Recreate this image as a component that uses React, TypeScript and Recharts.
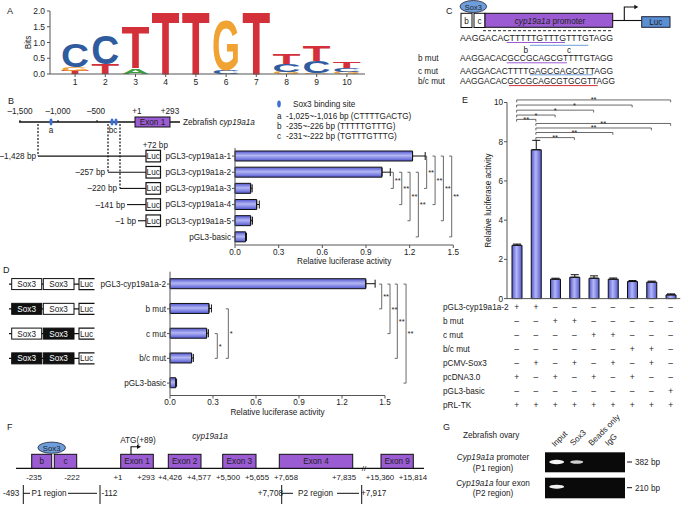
import React from "react";
import { BarChart, Bar, XAxis, YAxis, ErrorBar, ReferenceLine } from "recharts";

const FONT = '"Liberation Sans", Arial, Helvetica, sans-serif';
const TEXT = "#222";
const AXIS = "#555";
const FS = 8.2;

// ---------- A: sequence logo ----------
const logoPositions = ["1", "2", "3", "4", "5", "6", "7", "8", "9", "10"];
// letters stacked bottom -> top
const logoLayer0Letters = ["T", "T", "A", "T", "T", "C", "T", "G", "G", "G"];
const logoLayer0Bits = [0.1, 0.32, 0.18, 2.0, 2.0, 0.12, 2.0, 0.07, 0.03, 0.06];
const logoLayer1Letters = ["G", "C", "T", "", "", "G", "", "C", "C", "C"];
const logoLayer1Bits = [0.13, 0.9, 1.32, 0, 0, 1.57, 0, 0.25, 0.38, 0.13];
const logoLayer2Letters = ["C", "", "", "", "", "", "", "T", "T", "T"];
const logoLayer2Bits = [0.74, 0, 0, 0, 0, 0, 0, 0.34, 0.49, 0.22];
const bitTicks = [0, 0.5, 1, 1.5, 2];

const LETTER_COLORS: Record<string, string> = {
  A: "#3b9e3f",
  C: "#2f5b9f",
  G: "#f0a232",
  T: "#d3303a",
};

// ---------- B: promoter deletions ----------
const bConstructs = [
  "pGL3-cyp19a1a-1",
  "pGL3-cyp19a1a-2",
  "pGL3-cyp19a1a-3",
  "pGL3-cyp19a1a-4",
  "pGL3-cyp19a1a-5",
  "pGL3-basic",
];
const bActivity = [1.22, 1.01, 0.108, 0.149, 0.108, 0.073];
const bError = [0.087, 0.057, 0.01, 0.018, 0.012, 0.006];
const bSigPairs = [[1, 2], [1, 3], [1, 4], [1, 5], [0, 2], [0, 3], [0, 4], [0, 5]];
const bSigX = [1.088, 1.146, 1.203, 1.26, 1.317, 1.375, 1.432, 1.489];
const bSigText = ["**", "**", "**", "**", "**", "**", "**", "**"];
const activityTicks = [0, 0.3, 0.6, 0.9, 1.2, 1.5];

// ---------- D: site mutations ----------
const dConstructs = ["pGL3-cyp19a1a-2", "b mut", "c mut", "b/c mut", "pGL3-basic"];
const dActivity = [1.366, 0.272, 0.256, 0.151, 0.04];
const dError = [0.065, 0.017, 0.012, 0.012, 0.006];
const dSigPairs = [[0, 1], [0, 2], [0, 3], [0, 4], [1, 3], [2, 3]];
const dSigX = [1.477, 1.535, 1.586, 1.647, 0.407, 0.33];
const dSigText = ["**", "**", "**", "**", "*", "*"];
const dMutB = [false, true, false, true];
const dMutC = [false, false, true, true];

// ---------- E: Sox3 co-transfection ----------
const eLanes = ["1", "2", "3", "4", "5", "6", "7", "8", "9"];
const eActivity = [2.72, 7.59, 0.99, 1.09, 1.04, 0.99, 0.87, 0.84, 0.19];
const eError = [0.06, 0.48, 0.05, 0.13, 0.12, 0.06, 0.05, 0.05, 0.05];
const eSigPairs = [[0, 8], [0, 6], [0, 4], [0, 2], [0, 1], [1, 8], [1, 7], [1, 5], [1, 3]];
const eSigY = [10.13, 9.87, 9.61, 9.36, 9.14, 8.93, 8.7, 8.47, 8.21];
const eSigText = ["**", "*", "*", "*", "**", "**", "**", "**", "**"];
const eTicks = [0, 2, 4, 6, 8, 10];
const eRows = ["pGL3-cyp19a1a-2", "b mut", "c mut", "b/c mut", "pCMV-Sox3", "pcDNA3.0", "pGL3-basic", "pRL-TK"];
const eDesign = [
  "++-------",
  "--++-----",
  "----++---",
  "------++-",
  "-+-+-+-+-",
  "+-+-+-+--",
  "--------+",
  "+++++++++",
];

const logoData = logoPositions.map((p, i) => ({
  pos: p,
  l0: logoLayer0Letters[i], b0: logoLayer0Bits[i],
  l1: logoLayer1Letters[i], b1: logoLayer1Bits[i],
  l2: logoLayer2Letters[i], b2: logoLayer2Bits[i],
}));
const bData = bConstructs.map((n, i) => ({ name: n, value: bActivity[i], err: [0, bError[i]] }));
const dData = dConstructs.map((n, i) => ({ name: n, value: dActivity[i], err: [0, dError[i]] }));
const eData = eLanes.map((n, i) => ({ lane: n, value: eActivity[i], err: [0, eError[i]] }));

const tickStyle = { fontSize: FS, fill: TEXT, fontFamily: FONT };
const refStyle = { stroke: "#444", strokeWidth: 0.8, ifOverflow: "visible" as const };

function letterShape(layer: number) {
  return (props: any) => {
    const { x, y, width, height, payload } = props;
    const letter = payload ? payload["l" + layer] : "";
    if (!letter || !height || height < 0.4) return <g />;
    const capH = 71;
    return (
      <text
        transform={`translate(${x},${y + height}) scale(1,${height / capH})`}
        x={0}
        y={0}
        fontSize={100}
        fontWeight="bold"
        fontFamily={FONT}
        textLength={width}
        lengthAdjust="spacingAndGlyphs"
        fill={LETTER_COLORS[letter]}
      >
        {letter}
      </text>
    );
  };
}

function rotatedLabel(value: string, x: number) {
  return (props: any) => {
    const vb = props.viewBox || { y: 0, height: 0 };
    const cy = vb.y + vb.height / 2;
    return (
      <text x={x} y={cy} transform={`rotate(-90 ${x} ${cy})`} textAnchor="middle" fontSize={FS} fill={TEXT} fontFamily={FONT}>
        {value}
      </text>
    );
  };
}

function BarGradients({ id, horizontal }: { id: string; horizontal: boolean }) {
  return (
    <defs>
      <linearGradient id={id} x1="0" y1="0" x2={horizontal ? "1" : "0"} y2={horizontal ? "0" : "1"}>
        <stop offset="0%" stopColor="#5257cf" />
        <stop offset="45%" stopColor="#b3b6f3" />
        <stop offset="60%" stopColor="#9a9eec" />
        <stop offset="100%" stopColor="#5257cf" />
      </linearGradient>
    </defs>
  );
}

function LogoChart() {
  return (
    <BarChart width={365} height={92} data={logoData} margin={{ top: 11, right: 0, left: 0, bottom: 0 }} barCategoryGap={1}>
      <XAxis dataKey="pos" interval={0} padding={{ left: 10, right: 3 }} height={18} tick={{ ...tickStyle, fontSize: 8.5 }} tickSize={3} tickMargin={2} axisLine={{ stroke: AXIS }} tickLine={{ stroke: AXIS }} />
      <YAxis
        domain={[0, 2]}
        ticks={bitTicks}
        tickFormatter={(v: number) => v.toFixed(1)}
        width={50}
        tick={{ ...tickStyle, fontSize: 8.5 }}
        tickSize={3}
        tickMargin={2}
        axisLine={{ stroke: AXIS }}
        tickLine={{ stroke: AXIS }}
        label={{ content: rotatedLabel("Bits", 31) } as any}
      />
      <Bar dataKey="b0" stackId="s" isAnimationActive={false} shape={letterShape(0)} />
      <Bar dataKey="b1" stackId="s" isAnimationActive={false} shape={letterShape(1)} />
      <Bar dataKey="b2" stackId="s" isAnimationActive={false} shape={letterShape(2)} />
    </BarChart>
  );
}

function sideBrackets(names: string[], pairs: number[][], xs: number[], texts: string[], stub: number) {
  return pairs.map(([a, b], i) => {
    const x = xs[i];
    return (
      <React.Fragment key={"br" + i}>
        <ReferenceLine
          segment={[{ x, y: names[a] }, { x, y: names[b] }]}
          {...refStyle}
          label={{ value: texts[i], position: "right", offset: 1.5, fontSize: 7.5, fill: TEXT, fontFamily: FONT }}
        />
        <ReferenceLine segment={[{ x: x - stub, y: names[a] }, { x, y: names[a] }]} {...refStyle} />
        <ReferenceLine segment={[{ x: x - stub, y: names[b] }, { x, y: names[b] }]} {...refStyle} />
      </React.Fragment>
    );
  });
}

function LuciferaseBars({ data, width, height, top, right, yWidth, names, pairs, xs, texts, gid }: any) {
  return (
    <BarChart width={width} height={height} data={data} layout="vertical" margin={{ top, right, left: 0, bottom: 0 }} barSize={10}>
      <BarGradients id={gid} horizontal={false} />
      <XAxis
        type="number"
        domain={[0, 1.5]}
        ticks={activityTicks}
        tickFormatter={(v: number) => v.toFixed(1)}
        height={25}
        tick={tickStyle}
        tickSize={3}
        tickMargin={1}
        axisLine={{ stroke: AXIS }}
        tickLine={{ stroke: AXIS }}
        label={{ value: "Relative luciferase activity", position: "insideBottom", offset: 6, fontSize: FS, fill: TEXT, fontFamily: FONT }}
      />
      <YAxis type="category" dataKey="name" width={yWidth} tick={tickStyle} tickSize={3} tickMargin={1} axisLine={{ stroke: AXIS }} tickLine={{ stroke: AXIS }} interval={0} />
      <Bar dataKey="value" fill={`url(#${gid})`} stroke="#111" strokeWidth={1} isAnimationActive={false}>
        <ErrorBar dataKey="err" direction="x" width={4} stroke="#111" strokeWidth={1} />
      </Bar>
      {sideBrackets(names, pairs, xs, texts, 0.018)}
    </BarChart>
  );
}

function EChart() {
  return (
    <BarChart width={245} height={322} data={eData} margin={{ top: 12.5, right: 4.75, left: 0, bottom: 0 }} barSize={10}>
      <BarGradients id="gradE" horizontal={true} />
      <XAxis xAxisId="main" dataKey="lane" height={1} tick={false} tickLine={false} axisLine={{ stroke: AXIS }} />
      {eRows.map((row, r) => (
        <XAxis
          key={row}
          xAxisId={"r" + r}
          dataKey="lane"
          interval={0}
          height={14.05}
          axisLine={false}
          tickLine={false}
          tickSize={0}
          tickMargin={4.1}
          tick={{ ...tickStyle, fontSize: 8.5 }}
          tickFormatter={(_v: any, idx: number) => (eDesign[r][idx] === "+" ? "+" : "–")}
          label={{
            content: (props: any) => {
              const vb = props.viewBox || { x: 0, y: 0 };
              return (
                <text x={vb.x - 64} y={vb.y + 9.9} fontSize={FS} fill={TEXT} fontFamily={FONT}>
                  {row}
                </text>
              );
            },
          } as any}
        />
      ))}
      <YAxis
        domain={[0, 10]}
        ticks={eTicks}
        width={67}
        tick={tickStyle}
        tickSize={3}
        tickMargin={1}
        axisLine={{ stroke: AXIS }}
        tickLine={{ stroke: AXIS }}
        label={{ content: rotatedLabel("Relative luciferase activity", 51) } as any}
      />
      <Bar xAxisId="main" dataKey="value" fill="url(#gradE)" stroke="#111" strokeWidth={1} isAnimationActive={false}>
        <ErrorBar dataKey="err" direction="y" width={4} stroke="#111" strokeWidth={1} />
      </Bar>
      {eSigPairs.map(([a, b], i) => {
        const y = eSigY[i];
        return (
          <React.Fragment key={"e" + i}>
            <ReferenceLine
              xAxisId="main"
              segment={[{ x: eLanes[a], y }, { x: eLanes[b], y }]}
              {...refStyle}
              label={{ value: eSigText[i], position: "top", offset: -2.5, fontSize: 7.5, fill: TEXT, fontFamily: FONT }}
            />
            <ReferenceLine xAxisId="main" segment={[{ x: eLanes[a], y }, { x: eLanes[a], y: y - 0.12 }]} {...refStyle} />
            <ReferenceLine xAxisId="main" segment={[{ x: eLanes[b], y }, { x: eLanes[b], y: y - 0.12 }]} {...refStyle} />
          </React.Fragment>
        );
      })}
    </BarChart>
  );
}

// ---------- schematic drawings ----------
const PURPLE = "#9a5bd3";
const SOX_BLUE = "#6e9ddb";

function Txt(props: any) {
  return <text fontFamily={FONT} fontSize={FS} fill={TEXT} {...props} />;
}

function Arrow({ x, y, up, right }: { x: number; y: number; up: number; right: number }) {
  return (
    <g>
      <path d={`M${x},${y} V${y - up} H${x + right}`} fill="none" stroke="#111" strokeWidth={1.1} />
      <path d={`M${x + right + 3},${y - up} L${x + right - 1},${y - up - 2.3} L${x + right - 1},${y - up + 2.3} Z`} fill="#111" />
    </g>
  );
}

const B_ROWS = bConstructs.map((_, i) => 148 + (97 / 6) * (i + 0.5));
const D_ROWS = dConstructs.map((_, i) => 271.7 + (123.8 / 5) * (i + 0.5));

function Diagrams() {
  const bStart = [38, 108, 120, 127, 138];
  const bLabelEnd = [36, 105, 117, 125, 136];
  const bLabels = ["–1,428 bp", "–257 bp", "–220 bp", "–141 bp", "–1 bp"];
  const fExons = [
    ["Exon 1", 120.7, 153.3],
    ["Exon 2", 168.3, 201],
    ["Exon 3", 222.7, 256],
    ["Exon 4", 279.3, 352.7],
    ["Exon 9", 381, 413.3],
  ] as [string, number, number][];
  const fCoords = [
    ["-235", 34], ["-222", 72], ["+1", 118], ["+293", 146], ["+4,426", 170], ["+4,577", 199],
    ["+5,500", 228], ["+5,655", 257], ["+7,658", 286], ["+7,835", 344], ["+15,360", 380], ["+15,814", 413],
  ] as [string, number][];
  return (
    <svg width={685} height={507} style={{ position: "absolute", left: 0, top: 0 }}>
      {/* panel letters */}
      <Txt x={7} y={13.5} fontSize={9}>A</Txt>
      <Txt x={8} y={103.5} fontSize={9}>B</Txt>
      <Txt x={446} y={13.5} fontSize={9}>C</Txt>
      <Txt x={3} y={272.5} fontSize={9}>D</Txt>
      <Txt x={462} y={103} fontSize={9}>E</Txt>
      <Txt x={7} y={430} fontSize={9}>F</Txt>
      <Txt x={443} y={430} fontSize={9}>G</Txt>

      {/* B gene */}
      <line x1={19} y1={122} x2={180} y2={122} stroke="#111" strokeWidth={1.3} />
      {[20, 58, 97].map((x) => (
        <line key={x} x1={x} y1={120} x2={x} y2={122} stroke="#111" strokeWidth={1} />
      ))}
      <rect x={135} y={117} width={35} height={10} fill={PURPLE} stroke="#111" strokeWidth={1} />
      <Txt x={152.5} y={125} textAnchor="middle">Exon 1</Txt>
      {[["–1,500", 20], ["–1,000", 58], ["–500", 96], ["+1", 137], ["+293", 170]].map(([t, x]) => (
        <Txt key={t as string} x={x} y={114} textAnchor="middle">{t}</Txt>
      ))}
      {[51, 112, 116].map((x) => (
        <ellipse key={x} cx={x} cy={122} rx={1.6} ry={3.4} fill="#3d6fd2" />
      ))}
      <Txt x={51} y={133} textAnchor="middle">a</Txt>
      <Txt x={113} y={133} textAnchor="middle">bc</Txt>
      <Txt x={183} y={125}>
        Zebrafish <tspan fontStyle="italic">cyp19a1a</tspan>
      </Txt>
      <ellipse cx={279} cy={104} rx={1.8} ry={3.4} fill="#3d6fd2" />
      <Txt x={293} y={107}>Sox3 binding site</Txt>
      <Txt x={277} y={118.7}>a</Txt>
      <Txt x={286} y={118.7}>-1,025~-1,016 bp (CTTTTGACTG)</Txt>
      <Txt x={277} y={129}>b</Txt>
      <Txt x={286} y={129}>-235~-226 bp (TTTTTGTTTG)</Txt>
      <Txt x={277} y={138.7}>c</Txt>
      <Txt x={286} y={138.7}>-231~-222 bp (TGTTTGTTTG)</Txt>
      {[[38, 156], [108, 172.3], [120, 188.4]].map(([x, y]) => (
        <line key={x} x1={x} y1={124} x2={x} y2={y} stroke="#111" strokeWidth={1.2} strokeDasharray="2 1.5" />
      ))}
      <Txt x={142.7} y={148}>+72 bp</Txt>
      {bStart.map((x, i) => (
        <g key={"c" + i}>
          <line x1={x} y1={B_ROWS[i]} x2={146} y2={B_ROWS[i]} stroke="#111" strokeWidth={1.1} />
          <rect x={146} y={B_ROWS[i] - 5.8} width={14.5} height={11.6} fill="#fff" stroke="#111" strokeWidth={1.2} />
          <Txt x={153.2} y={B_ROWS[i] + 3} textAnchor="middle">Luc</Txt>
          <Txt x={bLabelEnd[i]} y={B_ROWS[i] + 3} textAnchor="end">{bLabels[i]}</Txt>
        </g>
      ))}

      {/* D constructs */}
      {dMutB.map((mb, i) => {
        const y = D_ROWS[i];
        const mc = dMutC[i];
        return (
          <g key={"d" + i}>
            <line x1={9} y1={y} x2={79} y2={y} stroke="#111" strokeWidth={1.1} />
            <rect x={11.7} y={y - 5.5} width={30} height={11} fill={mb ? "#111" : "#fff"} stroke="#111" />
            <Txt x={26.7} y={y + 3} textAnchor="middle" fill={mb ? "#fff" : TEXT}>Sox3</Txt>
            <rect x={43.3} y={y - 5.5} width={30.7} height={11} fill={mc ? "#111" : "#fff"} stroke="#111" />
            <Txt x={58.6} y={y + 3} textAnchor="middle" fill={mc ? "#fff" : TEXT}>Sox3</Txt>
            <path d={`M94.5,${y - 5.5} H79 V${y + 5.5} H94.5`} fill="none" stroke="#111" strokeWidth={1.1} />
            <Txt x={86.5} y={y + 3} textAnchor="middle">Luc</Txt>
          </g>
        );
      })}

      {/* C construct and sequences */}
      <ellipse cx={473.3} cy={6.5} rx={13.3} ry={6} fill={SOX_BLUE} stroke="#223" strokeWidth={0.8} />
      <Txt x={473.3} y={9.5} textAnchor="middle" fontSize={7.5}>Sox3</Txt>
      <rect x={461} y={13.3} width={11} height={14.2} fill="#fff" stroke="#111" />
      <Txt x={466.5} y={23.5} textAnchor="middle">b</Txt>
      <rect x={474} y={13.3} width={11} height={14.2} fill="#fff" stroke="#111" />
      <Txt x={479.5} y={23.5} textAnchor="middle">c</Txt>
      <rect x={485} y={13.3} width={127.7} height={14} fill={PURPLE} stroke="#111" />
      <Txt x={550} y={23.5} textAnchor="middle">
        <tspan fontStyle="italic">cyp19a1a</tspan> promoter
      </Txt>
      <line x1={612.7} y1={20.5} x2={641.7} y2={20.5} stroke="#111" strokeWidth={1.1} />
      <Arrow x={624.3} y={20.5} up={13.5} right={11} />
      <rect x={641.7} y={16.7} width={28.3} height={10.6} fill="#5b8fd4" stroke="#223" />
      <Txt x={655.8} y={24.8} textAnchor="middle">Luc</Txt>
      <line x1={483} y1={30.7} x2={612} y2={30.7} stroke="#111" strokeWidth={0.9} strokeDasharray="3 2" />
      <Txt x={460} y={40.8} fontSize={8.7} textLength={153} lengthAdjust="spacingAndGlyphs">AAGGACACTTTTTGTTTGTTTGTAGG</Txt>
      <line x1={506.7} y1={42.5} x2={565} y2={42.5} stroke="#9a5bd3" strokeWidth={1} />
      <line x1={530} y1={45.3} x2={588.3} y2={45.3} stroke="#6e9ddb" strokeWidth={1} />
      <Txt x={525.7} y={53} textAnchor="middle">b</Txt>
      <Txt x={569} y={53} textAnchor="middle">c</Txt>
      <Txt x={418} y={61.3}>b mut</Txt>
      <Txt x={460} y={61.3} fontSize={8.7} textLength={153} lengthAdjust="spacingAndGlyphs">AAGGACACGCCGCAGCGTTTTGTAGG</Txt>
      <line x1={506.7} y1={62.8} x2={567} y2={62.8} stroke="#9a5bd3" strokeWidth={1} />
      <Txt x={418} y={73.7}>c mut</Txt>
      <Txt x={460} y={73.7} fontSize={8.7} textLength={153} lengthAdjust="spacingAndGlyphs">AAGGACACTTTTGAGCGAGCGTTAGG</Txt>
      <line x1={530} y1={74.8} x2={593} y2={74.8} stroke="#6e9ddb" strokeWidth={1} />
      <Txt x={418} y={84}>b/c mut</Txt>
      <Txt x={460} y={84} fontSize={8.7} textLength={155} lengthAdjust="spacingAndGlyphs">AAGGACACGCCGCAGCGTGCGTTAGG</Txt>
      <line x1={509} y1={85.6} x2={597.7} y2={85.6} stroke="#d3303a" strokeWidth={1} />

      {/* F gene structure */}
      <line x1={16} y1={468.3} x2={424} y2={468.3} stroke="#111" strokeWidth={1.2} />
      <Txt x={364} y={471} textAnchor="middle" fontSize={8}>//</Txt>
      <rect x={31.7} y={454.3} width={20} height={14} fill={PURPLE} stroke="#111" />
      <Txt x={41.7} y={464.3} textAnchor="middle">b</Txt>
      <rect x={54.3} y={454.3} width={22.4} height={14} fill={PURPLE} stroke="#111" />
      <Txt x={65.5} y={464.3} textAnchor="middle">c</Txt>
      <ellipse cx={51.7} cy={447.7} rx={13.8} ry={5.6} fill={SOX_BLUE} stroke="#223" strokeWidth={0.8} />
      <Txt x={51.7} y={450.5} textAnchor="middle" fontSize={7.8}>Sox3</Txt>
      {fExons.map(([t, x1, x2]) => (
        <g key={t}>
          <rect x={x1} y={454.3} width={x2 - x1} height={14} fill={PURPLE} stroke="#111" />
          <Txt x={(x1 + x2) / 2} y={464.3} textAnchor="middle">{t}</Txt>
        </g>
      ))}
      <Arrow x={131} y={454.3} up={7.5} right={7} />
      <Txt x={138} y={443} textAnchor="middle">ATG(+89)</Txt>
      <Txt x={210} y={439} textAnchor="middle" fontStyle="italic">cyp19a1a</Txt>
      {fCoords.map(([t, x]) => (
        <Txt key={t} x={x} y={479.6} textAnchor="middle" fontSize={7.8}>{t}</Txt>
      ))}
      {[23.3, 100, 281.7, 361.7].map((x) => (
        <line key={x} x1={x} y1={485} x2={x} y2={504} stroke="#111" strokeWidth={1} />
      ))}
      <line x1={23.3} y1={493.3} x2={30} y2={493.3} stroke="#111" />
      <line x1={68} y1={493.3} x2={97} y2={493.3} stroke="#111" />
      <line x1={281.7} y1={493.3} x2={293} y2={493.3} stroke="#111" />
      <line x1={337} y1={493.3} x2={359} y2={493.3} stroke="#111" />
      <Txt x={3} y={496.3}>-493</Txt>
      <Txt x={49} y={496.3} textAnchor="middle">P1 region</Txt>
      <Txt x={101.5} y={496.3}>-112</Txt>
      <Txt x={283} y={496.3} textAnchor="end">+7,708</Txt>
      <Txt x={315.5} y={496.3} textAnchor="middle">P2 region</Txt>
      <Txt x={361} y={496.3}>+7,917</Txt>

      {/* G ChIP gel */}
      <Txt x={463} y={438}>Zebrafish ovary</Txt>
      <Txt x={493} y={459.7} textAnchor="middle">
        <tspan fontStyle="italic">Cyp19a1a</tspan> promoter
      </Txt>
      <Txt x={493} y={470.7} textAnchor="middle">(P1 region)</Txt>
      <Txt x={493} y={485.7} textAnchor="middle">
        <tspan fontStyle="italic">Cyp19a1a</tspan> four exon
      </Txt>
      <Txt x={493} y={496.3} textAnchor="middle">(P2 region)</Txt>
      <rect x={545} y={452.3} width={80} height={20} fill="#0a0a0a" />
      <rect x={545} y={477.7} width={80} height={20.6} fill="#0a0a0a" />
      <ellipse cx={556.7} cy={462} rx={7.5} ry={2.2} fill="#f4f4f4" />
      <ellipse cx={576.7} cy={462} rx={6.5} ry={1.8} fill="#cfcfcf" />
      <ellipse cx={556.7} cy={486.7} rx={7.5} ry={2} fill="#eeeeee" />
      {[["Input", 555, 447.3], ["Sox3", 573.3, 446.3], ["Beads only", 591.7, 446.3], ["IgG", 608.3, 446.3]].map(([t, x, y]) => (
        <Txt key={t as string} x={x} y={y} transform={`rotate(-45 ${x} ${y})`}>{t}</Txt>
      ))}
      <line x1={627} y1={462} x2={632} y2={462} stroke="#111" />
      <Txt x={635} y={465}>382 bp</Txt>
      <line x1={627} y1={487.7} x2={632} y2={487.7} stroke="#111" />
      <Txt x={635} y={490.7}>210 bp</Txt>
    </svg>
  );
}

export default function App() {
  return (
    <div style={{ position: "absolute", left: 0, top: 0, width: 685, height: 507, background: "#fff", overflow: "hidden", fontFamily: FONT }}>
      <Diagrams />
      <div style={{ position: "absolute", left: 0, top: 0 }}>
        <LogoChart />
      </div>
      <div style={{ position: "absolute", left: 160, top: 140 }}>
        <LuciferaseBars data={bData} width={306} height={130} top={8} right={12.7} yWidth={75} names={bConstructs} pairs={bSigPairs} xs={bSigX} texts={bSigText} gid="gradB" />
      </div>
      <div style={{ position: "absolute", left: 90, top: 262 }}>
        <LuciferaseBars data={dData} width={330} height={158.5} top={9.7} right={35} yWidth={80} names={dConstructs} pairs={dSigPairs} xs={dSigX} texts={dSigText} gid="gradD" />
      </div>
      <div style={{ position: "absolute", left: 440, top: 90 }}>
        <EChart />
      </div>
    </div>
  );
}
